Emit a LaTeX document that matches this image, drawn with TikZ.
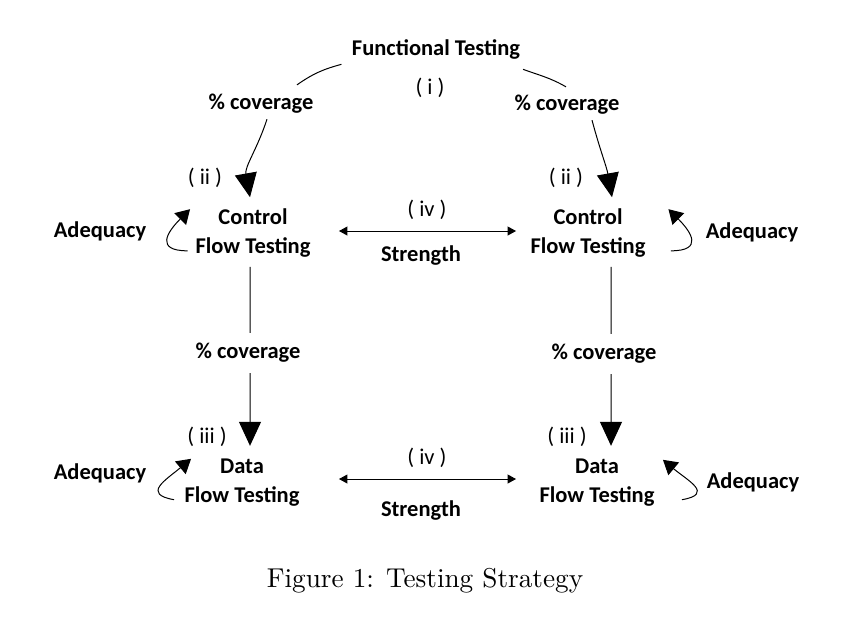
\documentclass[tikz,border=0pt]{standalone}
\usepackage{fontspec}
\usepackage{tikz}
\usetikzlibrary{arrows.meta}
\newfontfamily\calibri{Carlito}

\begin{document}
\begin{tikzpicture}[
    x=0.4pt, y=-0.4pt,
    label/.style={font=\calibri\bfseries\fontsize{9}{11.6}\selectfont, align=center, inner sep=2pt, yshift=-0.8pt},
    tag/.style={font=\calibri\fontsize{9}{11}\selectfont, inner sep=1pt, yshift=-0.8pt},
    link/.style={thin},
    arrow/.style={-{Triangle[length=9.6pt,width=8.8pt]}, thin},
    both/.style={{Triangle[length=3.4pt,width=3.6pt]}-{Triangle[length=3.4pt,width=3.6pt]}, thin},
    selfloop/.style={-{Triangle[length=5.6pt,width=6.6pt]}, thin}
]
    \useasboundingbox (0,0) rectangle (865,622);

    % Nodes
    \node[label] (FT) at (436,47) {Functional Testing};
    \node[tag] (tagI) at (430,86) {( i )};
    \node[label] (covL) at (261,102) {\% coverage};
    \node[label] (covR) at (567,103) {\% coverage};
    \node[tag] (tagIIL) at (205,176) {( ii )};
    \node[tag] (tagIIR) at (566,176) {( ii )};
    \node[label] (CFL) at (253,231) {Control\\Flow Testing};
    \node[label] (CFR) at (588,231) {Control\\Flow Testing};
    \node[tag] (tagIVT) at (427,208) {( iv )};
    \node[label] (strT) at (421,253) {Strength};
    \node[label] (adqTL) at (100,229) {Adequacy};
    \node[label] (adqTR) at (752,230) {Adequacy};
    \node[label] (covVL) at (248,351) {\% coverage};
    \node[label] (covVR) at (604,352) {\% coverage};
    \node[tag] (tagIIIL) at (207,435) {( iii )};
    \node[tag] (tagIIIR) at (567,435) {( iii )};
    \node[label] (DFL) at (242,481) {Data\\Flow Testing};
    \node[label] (DFR) at (597,481) {Data\\Flow Testing};
    \node[tag] (tagIVB) at (427,456) {( iv )};
    \node[label] (strB) at (421,508) {Strength};
    \node[label] (adqBL) at (100,471) {Adequacy};
    \node[label] (adqBR) at (753,480) {Adequacy};
    \node[font=\fontsize{10.9}{13}\selectfont] (cap) at (425,581) {Figure 1: Testing Strategy};

    % Arrows from functional testing
    \draw[link] ([xshift=-2pt]FT.south west) to[out=195, in=35] ([xshift=14.4pt,yshift=1.6pt]covL.north);
    \draw[arrow] ([xshift=2.4pt]covL.south) to[out=-108, in=100] ([xshift=-1.2pt,yshift=2.4pt]CFL.north);
    \draw[link] ([xshift=-1pt,yshift=-2pt]FT.south east) to[out=-20, in=150] ([xshift=-0.4pt,yshift=1.2pt]covR.north);
    \draw[arrow] ([xshift=10pt]covR.south) to[out=-75, in=100] ([xshift=9.6pt,yshift=2.4pt]CFR.north);

    % Arrows down to data flow testing
    \draw[link] ([xshift=-1.2pt,yshift=-1.6pt]CFL.south) -- ([xshift=0.8pt,yshift=2pt]covVL.north);
    \draw[arrow] ([xshift=0.8pt,yshift=-2pt]covVL.south) -- ([xshift=3.2pt,yshift=3.2pt]DFL.north);
    \draw[link] ([xshift=9.2pt,yshift=-1.6pt]CFR.south) -- ([xshift=2.8pt,yshift=2pt]covVR.north);
    \draw[arrow] ([xshift=2.8pt,yshift=-2pt]covVR.south) -- ([xshift=5.6pt,yshift=3.2pt]DFR.north);

    % Strength
    \draw[both] ([xshift=9.2pt,yshift=0.8pt]CFL.east) -- ([xshift=-3.6pt,yshift=0.8pt]CFR.west);
    \draw[both] ([xshift=13.6pt,yshift=1.6pt]DFL.east) -- ([xshift=-7.2pt,yshift=1.6pt]DFR.west);

    % Adequacy loops
    \draw[selfloop] ([xshift=-1pt,yshift=4.8pt]CFL.south west) to[out=180, in=225, looseness=2] ([yshift=-2.4pt]CFL.north west);
    \draw[selfloop] ([xshift=8pt,yshift=4.8pt]CFR.south east) to[out=0, in=-45, looseness=2] ([xshift=7pt,yshift=-2.4pt]CFR.north east);
    \draw[selfloop] ([xshift=-2pt,yshift=5pt]DFL.south west) to[out=170, in=220, looseness=1.9] ([xshift=4.8pt,yshift=-2pt]DFL.north west);
    \draw[selfloop] ([xshift=8.8pt,yshift=5pt]DFR.south east) to[out=10, in=-40, looseness=1.9] ([xshift=1.2pt,yshift=-2.4pt]DFR.north east);
\end{tikzpicture}
\end{document}
